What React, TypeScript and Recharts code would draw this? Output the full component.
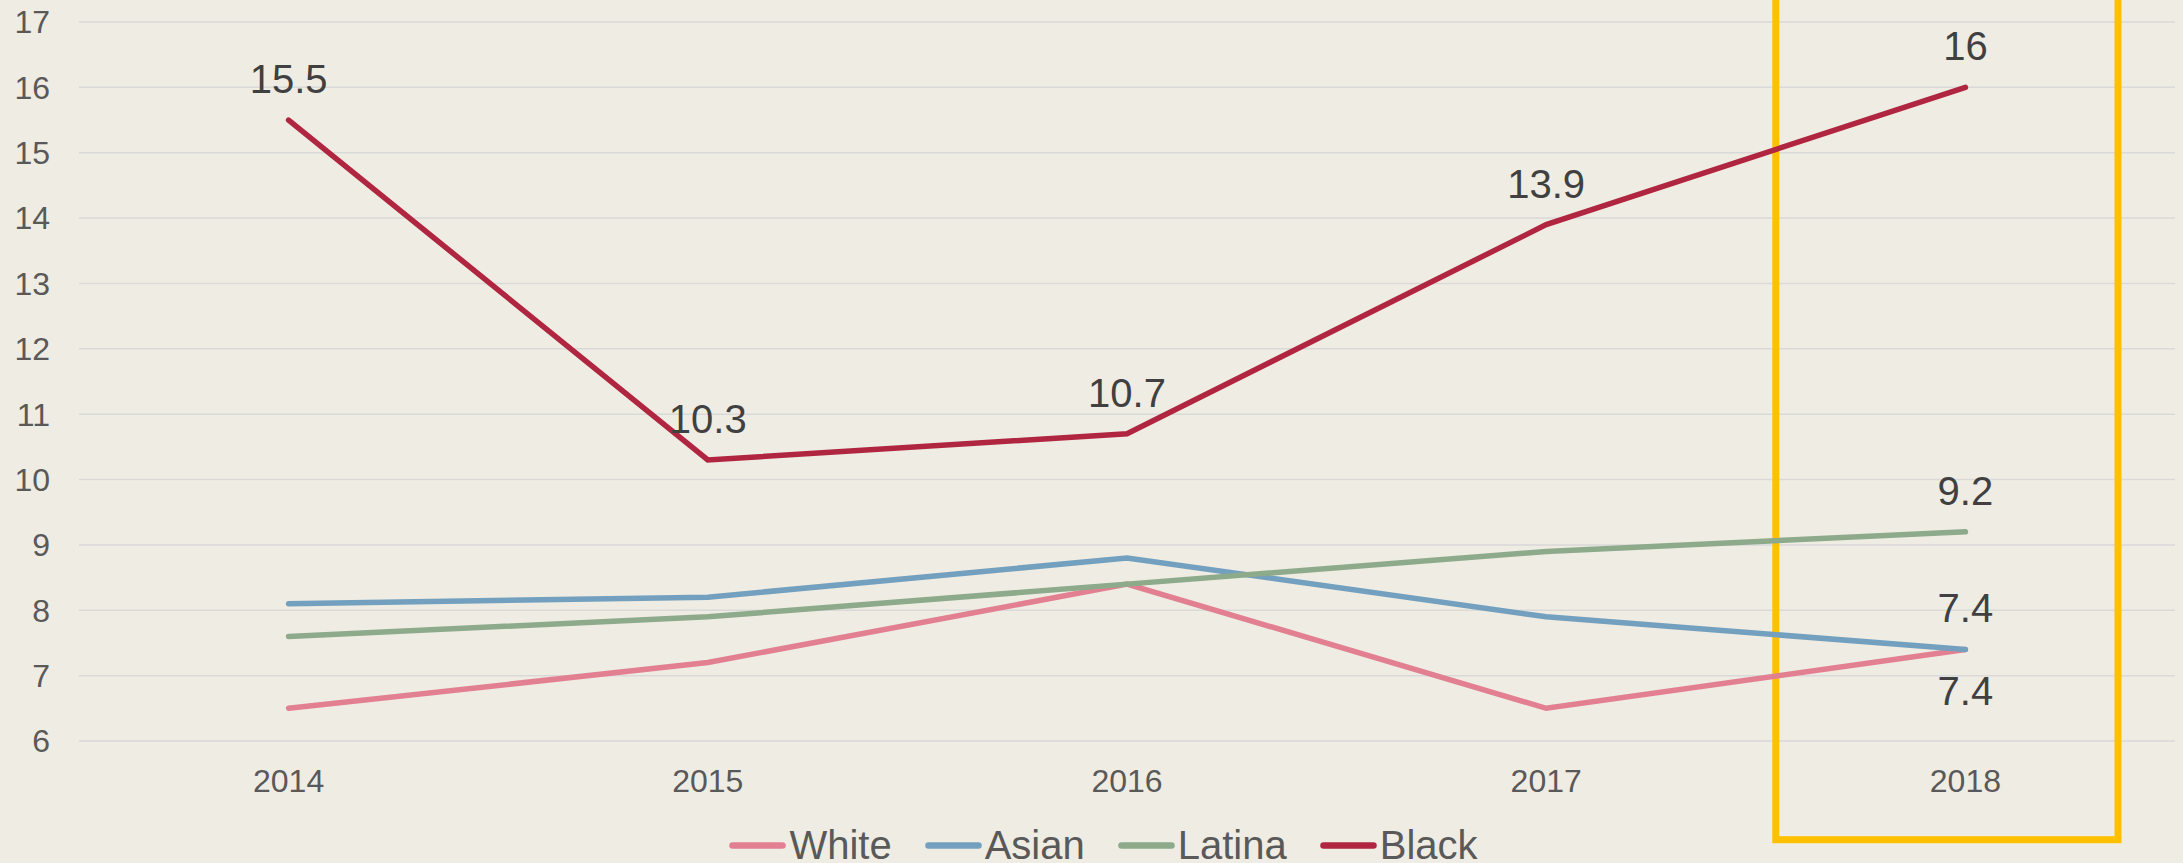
import React from 'react';
import { LineChart, Line, XAxis, YAxis, CartesianGrid, Legend, ReferenceArea } from 'recharts';

const years = ['2014', '2015', '2016', '2017', '2018'];
const white = [6.5, 7.2, 8.4, 6.5, 7.4];
const asian = [8.1, 8.2, 8.8, 7.9, 7.4];
const latina = [7.6, 7.9, 8.4, 8.9, 9.2];
const black = [15.5, 10.3, 10.7, 13.9, 16];
const yTicks = [6, 7, 8, 9, 10, 11, 12, 13, 14, 15, 16, 17];
const seriesNames = ['White', 'Asian', 'Latina', 'Black'];
const seriesColors = ['#E28092', '#72A0BE', '#8DAA8B', '#B02540'];
const highlightYear = '2018';
const highlightRange = [4.49, 18];

const data = years.map((y, i) => ({
  year: y,
  White: white[i],
  Asian: asian[i],
  Latina: latina[i],
  Black: black[i],
}));

const FONT = '"Liberation Sans", Arial, sans-serif';

const makeLabel = (pos: 'top' | 'bottom', onlyLast: boolean) => (props: any) => {
  const x = props.x ?? props.viewBox?.x;
  const y = props.y ?? props.viewBox?.y;
  const { value, index } = props;
  if (onlyLast && index !== years.length - 1) return null;
  if (x == null || y == null) return null;
  return (
    <text
      key={`lbl-${index}`}
      x={x}
      y={pos === 'top' ? y - 27 : y + 27}
      dy={pos === 'top' ? 0 : '0.716em'}
      textAnchor="middle"
      fontSize={40}
      fontFamily={FONT}
      fill="#404040"
    >
      {value}
    </text>
  );
};

const renderBox = (props: any) => {
  const { x, y, width, height } = props;
  return (
    <rect
      x={x + 20}
      y={y}
      width={width - 77}
      height={height}
      fill="none"
      stroke="#FFC000"
      strokeWidth={7}
    />
  );
};

const renderLegend = () => (
  <div
    style={{
      display: 'flex',
      justifyContent: 'center',
      alignItems: 'center',
      height: 40,
      paddingLeft: 24,
      fontFamily: FONT,
      fontSize: 40,
      lineHeight: '40px',
      color: '#595959',
    }}
  >
    {seriesNames.map((name, i) => (
      <div key={name} style={{ display: 'flex', alignItems: 'center', marginRight: i < seriesNames.length - 1 ? 33 : 0 }}>
        <svg width={57} height={7} style={{ display: 'block' }}>
          <line x1={3.5} y1={3.5} x2={53.5} y2={3.5} stroke={seriesColors[i]} strokeWidth={6.5} strokeLinecap="round" />
        </svg>
        <span style={{ marginLeft: 3 }}>{name}</span>
      </div>
    ))}
  </div>
);

export default function App() {
  return (
    <div style={{ width: 2183, height: 863, background: '#EFECE3', overflow: 'hidden' }}>
      <style>{`body{margin:0;background:#EFECE3}`}</style>
      <LineChart
        width={2183}
        height={863}
        data={data}
        margin={{ top: 22, right: 8, left: 0, bottom: 0 }}
        style={{ background: '#EFECE3' }}
      >
        <CartesianGrid vertical={false} stroke="#D9D9D9" strokeWidth={1.5} />
        <XAxis
          dataKey="year"
          scale="band"
          axisLine={false}
          tickLine={false}
          tickSize={0}
          tickMargin={28}
          height={82}
          interval={0}
          tick={{ fontSize: 32, fill: '#595959', fontFamily: FONT }}
        />
        <YAxis
          domain={[6, 17]}
          ticks={yTicks}
          interval={0}
          axisLine={false}
          tickLine={false}
          tickSize={0}
          tickMargin={29}
          width={79}
          tick={{ fontSize: 32, fill: '#595959', fontFamily: FONT }}
        />
        <Legend verticalAlign="bottom" height={40} wrapperStyle={{ bottom: -2, left: 0, width: 2183 }} content={renderLegend} />
        <Line type="linear" dataKey="White" stroke={seriesColors[0]} strokeWidth={5.5} strokeLinecap="round" dot={false} activeDot={false} isAnimationActive={false} label={makeLabel('bottom', true)} />
        <Line type="linear" dataKey="Asian" stroke={seriesColors[1]} strokeWidth={5.5} strokeLinecap="round" dot={false} activeDot={false} isAnimationActive={false} label={makeLabel('top', true)} />
        <Line type="linear" dataKey="Latina" stroke={seriesColors[2]} strokeWidth={5.5} strokeLinecap="round" dot={false} activeDot={false} isAnimationActive={false} label={makeLabel('top', true)} />
        <Line type="linear" dataKey="Black" stroke={seriesColors[3]} strokeWidth={5.5} strokeLinecap="round" dot={false} activeDot={false} isAnimationActive={false} label={makeLabel('top', false)} />
        <ReferenceArea x1={highlightYear} x2={highlightYear} y1={highlightRange[0]} y2={highlightRange[1]} ifOverflow="visible" shape={renderBox} />
      </LineChart>
    </div>
  );
}
